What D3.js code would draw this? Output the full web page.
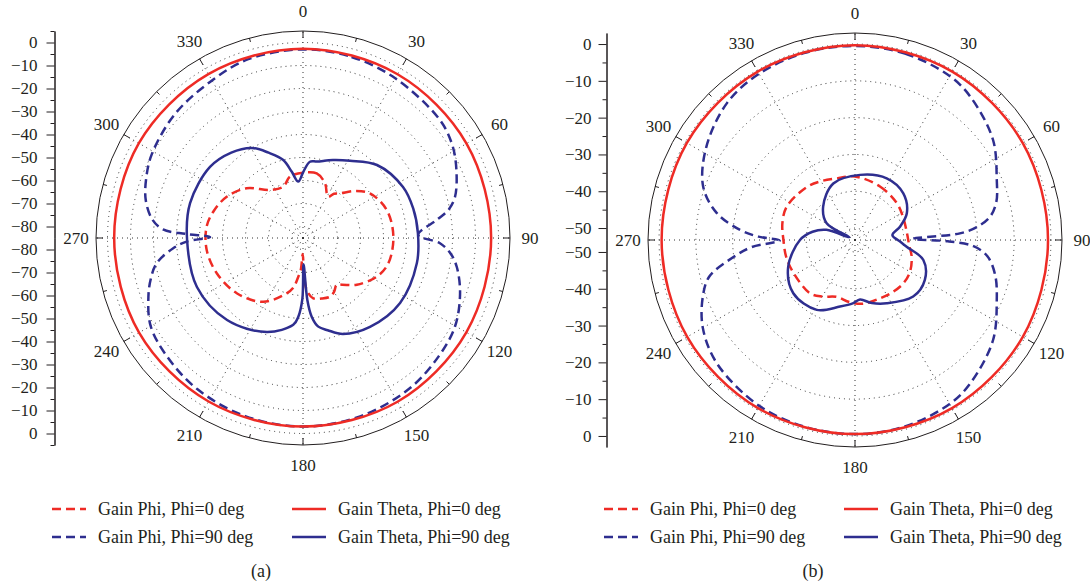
<!DOCTYPE html>
<html lang="en">
<head>
  <meta charset="UTF-8">
  <script src="https://d3js.org/d3.v7.min.js"></script>
  <style>
    body { margin: 0; background: #fff; }
    svg { display: block; }
    text { font-family: "Liberation Serif", "DejaVu Serif", serif; fill: #231f20; }
    .grid { fill: none; stroke: #333; stroke-width: 1; stroke-dasharray: 1, 4; }
    .frame { fill: none; stroke: #231f20; stroke-width: 1; }
    .axis path, .axis line { stroke: #231f20; }
    .trace { fill: none; stroke-width: 2.5; }
  </style>
</head>
<body>
<svg id="chart" width="1090" height="588"></svg>
<script>
  // angle labels round the rim
  const angleLabels = d3.range(0, 360, 30);

  // panel (a) : [angle deg, gain dB]
  const aPhiPhi0 = [[0,-56.6],[12,-56.3],[22,-59.4],[28,-63],[31.5,-64],[35,-61.5],[39.6,-59.8],[48,-54.5],[56.3,-50],
    [71.5,-46.6],[89,-45.7],[106.5,-46.3],[117.7,-48.8],[131,-54],[140,-58.5],[144.4,-59.9],[150,-58],[155.3,-56.9],
    [163,-57.5],[170.3,-58.4],[175.9,-62.3],[178.5,-70],[181,-78],[184,-71],[186.9,-68],[191,-63],[196.4,-59.9],
    [211.9,-52.3],[230.2,-47.5],[247.8,-44.5],[262.9,-42.8],[276.7,-42.8],[287,-44.5],[298.4,-47.3],[311.4,-52.3],
    [325.5,-59.7],[339,-61.1],[348,-57.7]];
  const aPhiPhi90 = [[0,-3.0],[15,-3.5],[30,-4.8],[49,-6.4],[58,-8.5],[66,-12],[74.8,-16.5],[79,-20.5],[82.3,-26.3],
    [88.5,-34.9],[92.2,-25.4],[96,-20.5],[100.6,-17],[109.4,-12.6],[120.3,-8.5],[131.3,-6.7],[145,-4.8],[162,-3.6],
    [180,-3.0],[198,-3.6],[215,-4.8],[229,-6.6],[240,-8.5],[249.2,-13.1],[255,-16.5],[260.2,-20.4],[265.5,-28.4],
    [268.2,-34.4],[270.6,-44.6],[272,-34],[273.5,-24],[277,-19],[283.5,-14.7],[291,-12],[299.2,-9.8],[314.2,-7.5],
    [330.1,-5.9],[343,-3.7]];
  const aThetaPhi0 = [[0,-2.7],[30,-2.8],[60,-2.9],[90,-3.2],[120,-3.0],[150,-2.8],[180,-3.0],[210,-2.9],
    [240,-2.7],[270,-2.9],[300,-2.6],[330,-2.7]];
  const aThetaPhi90 = [[0.3,-56.2],[5.2,-51.7],[10.4,-51.2],[21,-48.7],[31.3,-45.7],[45.4,-39.8],[63,-36.2],[75,-35.4],
    [87.5,-35],[102.4,-34.3],[123.8,-34.2],[143,-36.6],[157.4,-39.8],[165,-43.5],[170.2,-45.9],[173.7,-50.6],
    [176,-58],[178.8,-73.5],[180.6,-58.5],[183.4,-50.7],[186.4,-47],[201,-41.2],[222.8,-36.4],[245.2,-34.2],
    [269,-34.6],[287.2,-33.6],[307.4,-34.1],[320,-36.5],[330.5,-40],[338,-45],[345.8,-50],[350.3,-55.7],[355.2,-60.4]];

  // panel (b)
  const bPhiPhi0 = [[0,-36],[25,-37.2],[48.7,-38.1],[65,-38.8],[82.6,-39],[95,-38.5],[106.4,-37.2],[120,-36],
    [131.9,-35.6],[145,-35.8],[156.8,-36],[172.5,-35.8],[185,-36.3],[197.9,-37],[210,-35.5],[220.2,-34.3],
    [241.6,-34.3],[256,-34],[270,-33.8],[283,-33],[296,-32.6],[317.8,-33.8],[330,-34.8],[343.5,-35.8]];
  const bPhiPhi90 = [[0,-0.5],[15,-0.8],[30,-1.8],[39,-3.3],[54,-6.9],[67,-11.4],[75,-13.5],[80.2,-16],[84,-20],
    [86.4,-24.7],[88.8,-37.5],[90.8,-28],[93,-21],[97,-17],[104,-14],[113,-11.4],[126,-6.9],[141,-3.3],[150,-1.8],
    [165,-0.8],[180,-0.5],[195,-0.7],[210,-1.2],[228,-2.9],[240,-5.5],[250,-9.3],[256,-12.5],[262,-19.9],[266,-25],
    [269.6,-32.8],[272,-27],[275,-21.9],[281,-15],[289.4,-9.5],[302,-5.6],[317,-2.3],[330,-1.1],[345,-0.6]];
  const bThetaPhi0 = [[0,-0.3],[30,-0.4],[60,-0.6],[90,-0.8],[120,-0.6],[150,-0.5],[180,-0.5],[210,-0.5],
    [240,-0.6],[270,-0.7],[300,-0.5],[330,-0.4]];
  const bThetaPhi90 = [[4.4,-35.5],[27.2,-34.4],[46,-35],[62.7,-37.4],[73.5,-40.5],[82.6,-43],[92,-41],[97.4,-39.1],
    [106.3,-33.9],[119.7,-31.4],[134.2,-31.2],[153.4,-34],[165,-35.5],[175.2,-37],[182,-36],[192.7,-34.7],
    [208.7,-31.6],[229.2,-31.1],[248.2,-33.7],[270,-38.3],[281,-41.5],[289.5,-45],[296,-51.5],[300.5,-44.3],
    [316.4,-40.7],[339,-36.8]];

  const legendLabels = ['Gain Phi, Phi=0 deg', 'Gain Phi, Phi=90 deg', 'Gain Theta, Phi=0 deg', 'Gain Theta, Phi=90 deg'];

  const RED = '#ee2b25', BLUE = '#2e2e8f';
  const R = 207;
  const svg = d3.select('#chart');

  const panels = [
    { cx: 303, cy: 238, min: -85, max: 5, major: d3.range(0, -81, -10), minor: d3.range(5, -80, -10),
      pad: 9, caption: '(a)', series: [aPhiPhi0, aPhiPhi90, aThetaPhi0, aThetaPhi90] },
    { cx: 855, cy: 240, min: -53.25, max: 3, major: d3.range(0, -51, -10), minor: d3.range(-5, -50, -10),
      pad: 7, caption: '(b)', series: [bPhiPhi0, bPhiPhi90, bThetaPhi0, bThetaPhi90] }
  ];
  const styles = [
    { color: RED, dash: '9,5' }, { color: BLUE, dash: '9,5' },
    { color: RED, dash: null }, { color: BLUE, dash: null }
  ];

  panels.forEach(p => {
    const r = d3.scaleLinear().domain([p.min, p.max]).range([0, R]).clamp(true);
    const g = svg.append('g').attr('transform', `translate(${p.cx},${p.cy})`);

    // dotted rings and spokes
    g.selectAll('circle.grid').data(p.major).enter().append('circle')
      .attr('class', 'grid').attr('r', d => r(d));
    g.selectAll('line.grid').data(angleLabels).enter().append('line')
      .attr('class', 'grid')
      .attr('x2', d => R * Math.sin(d * Math.PI / 180))
      .attr('y2', d => -R * Math.cos(d * Math.PI / 180));

    // rim and angle ticks
    g.append('circle').attr('class', 'frame').attr('r', R);
    g.selectAll('line.tick').data(d3.range(0, 360, 15)).enter().append('line')
      .attr('class', 'frame')
      .attr('x1', d => R * Math.sin(d * Math.PI / 180))
      .attr('y1', d => -R * Math.cos(d * Math.PI / 180))
      .attr('x2', d => (R - (d % 30 ? 4 : 7)) * Math.sin(d * Math.PI / 180))
      .attr('y2', d => -(R - (d % 30 ? 4 : 7)) * Math.cos(d * Math.PI / 180));
    g.selectAll('text.ang').data(angleLabels).enter().append('text')
      .attr('x', d => 227 * Math.sin(d * Math.PI / 180))
      .attr('y', d => -227 * Math.cos(d * Math.PI / 180))
      .attr('dy', '0.35em').attr('text-anchor', 'middle')
      .style('font-size', '17px')
      .text(d => d);

    // traces
    const line = d3.lineRadial()
      .angle(d => d[0] * Math.PI / 180)
      .radius(d => r(d[1]))
      .curve(d3.curveCatmullRomClosed.alpha(0.5));
    p.series.forEach((s, i) => {
      g.append('path').attr('class', 'trace')
        .attr('d', line(s))
        .attr('stroke', styles[i].color)
        .attr('stroke-dasharray', styles[i].dash);
    });

    // mirrored gain axis on the left
    const ax = p.cx - 248.5;
    [-1, 1].forEach(sgn => {
      const y = d3.scaleLinear().domain([p.min, p.max]).range([p.cy, p.cy + sgn * R]);
      svg.append('g').attr('class', 'axis')
        .attr('transform', `translate(${ax},0)`)
        .call(d3.axisLeft(y).tickValues(p.major).tickSize(8).tickSizeOuter(0)
          .tickPadding(p.pad).tickFormat(d3.format('d')))
        .call(a => a.selectAll('text').style('font-size', '17px').attr('fill', '#231f20')
          .style('font-family', '"Liberation Serif", serif'));
      svg.append('g').attr('class', 'axis')
        .attr('transform', `translate(${ax},0)`)
        .call(d3.axisLeft(y).tickValues(p.minor).tickSize(4).tickSizeOuter(0).tickFormat(''));
    });

    // legend
    const lx = p.cx - 251;
    styles.forEach((st, i) => {
      const x = lx + (i < 2 ? 0 : 240);
      const y = 509 + (i % 2) * 28;
      svg.append('line').attr('class', 'trace')
        .attr('x1', x).attr('x2', x + 34).attr('y1', y).attr('y2', y)
        .attr('stroke', st.color).attr('stroke-dasharray', st.dash);
      svg.append('text').attr('x', x + 46).attr('y', y).attr('dy', '0.33em')
        .style('font-size', '18px').text(legendLabels[i]);
    });
    svg.append('text').attr('x', p.cx - 42).attr('y', 577)
      .attr('text-anchor', 'middle').style('font-size', '18px').text(p.caption);
  });
</script>
</body>
</html>
